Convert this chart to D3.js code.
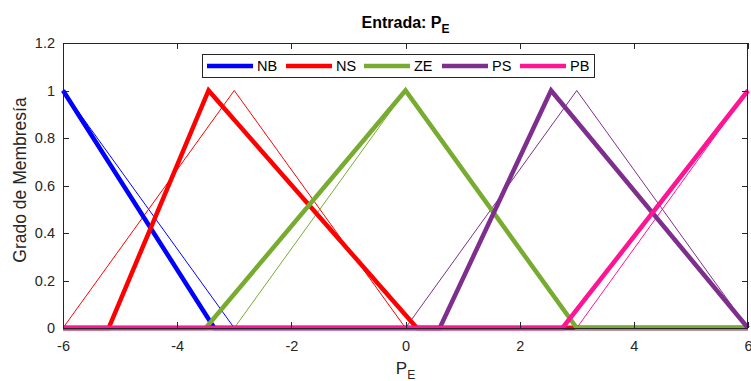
<!DOCTYPE html>
<html>
<head>
<meta charset="utf-8">
<script src="https://cdn.jsdelivr.net/npm/d3@7"></script>
<style>
  html, body { margin: 0; padding: 0; background: #fff; }
  svg { display: block; font-family: "Liberation Sans", Arial, Helvetica, sans-serif; }
</style>
</head>
<body>
<div id="chart"></div>
<script>
// Membership function labels and colours
const setNames  = ["NB", "NS", "ZE", "PS", "PB"];
const setColors = ["#0000ff", "#ff0000", "#77ac30", "#7e2f8e", "#ff1493"];

// Initial triangular membership functions [a, b, c]
const initialParams = [
  [-9, -6, -3],
  [-6, -3, 0],
  [-3, 0, 3],
  [0, 3, 6],
  [3, 6, 9]
];

// Tuned triangular membership functions [a, b, c]
const tunedParams = [
  [-9, -6, -3.35],
  [-5.2, -3.45, 0.2],
  [-3.5, 0, 3],
  [0.6, 2.55, 6],
  [2.75, 6, 9]
];

const xTicks = [-6, -4, -2, 0, 2, 4, 6];
const yTicks = [0, 0.2, 0.4, 0.6, 0.8, 1, 1.2];
const xDomain = [-6, 6];
const yDomain = [0, 1.2];

const W = 751, H = 381;
const margin = { left: 63, right: 3, top: 43, bottom: 53 };

const svg = d3.select("#chart").append("svg")
  .attr("width", W).attr("height", H);

const x = d3.scaleLinear().domain(xDomain).range([margin.left, W - margin.right]);
const y = d3.scaleLinear().domain(yDomain).range([H - margin.bottom, margin.top]);

// Triangle sampled at its breakpoints, clipped to the axis range
function trianglePoints(p) {
  const [a, b, c] = p;
  const mf = v => Math.max(0, Math.min((v - a) / (b - a), (c - v) / (c - b)));
  const xs = [xDomain[0], a, b, c, xDomain[1]]
    .filter(v => v >= xDomain[0] && v <= xDomain[1])
    .sort((m, n) => m - n);
  return Array.from(new Set(xs)).map(v => [v, mf(v)]);
}

const line = d3.line().x(d => x(d[0])).y(d => y(d[1]));

svg.append("clipPath").attr("id", "plotclip")
  .append("rect")
  .attr("x", margin.left - 3).attr("y", margin.top)
  .attr("width", W - margin.left - margin.right + 6)
  .attr("height", H - margin.top - margin.bottom + 3);

const plot = svg.append("g").attr("clip-path", "url(#plotclip)");

// thin initial curves first, then thick tuned ones
initialParams.forEach((p, i) => {
  plot.append("path")
    .attr("d", line(trianglePoints(p)))
    .attr("fill", "none")
    .attr("stroke", setColors[i])
    .attr("stroke-width", 1);
});
tunedParams.forEach((p, i) => {
  plot.append("path")
    .attr("d", line(trianglePoints(p)))
    .attr("fill", "none")
    .attr("stroke", setColors[i])
    .attr("stroke-width", 4.5)
    .attr("stroke-linejoin", "miter");
});

// Axes box and ticks
const axisColor = "#262626";
const x0 = x(xDomain[0]), x1 = x(xDomain[1]);
const y0 = y(yDomain[0]), y1 = y(yDomain[1]);
const tickLen = 6;

const axisG = svg.append("g");
axisG.append("rect")
  .attr("x", x0 + 0.5).attr("y", y1 + 0.5)
  .attr("width", x1 - x0 - 1).attr("height", y0 - y1)
  .attr("fill", "none").attr("stroke", axisColor).attr("stroke-width", 1);

const bottomAxis = d3.axisBottom(x).tickValues(xTicks).tickSize(0).tickPadding(13)
  .tickFormat(d => d < 0 ? "-" + Math.abs(d) : String(d));
const gx = svg.append("g").attr("transform", `translate(0,${y0})`).call(bottomAxis);
gx.select(".domain").remove();
gx.selectAll("text").attr("font-size", 14.5).attr("fill", axisColor)
  .attr("font-family", "'Liberation Sans', Arial, sans-serif");

const leftAxis = d3.axisLeft(y).tickValues(yTicks).tickSize(0).tickPadding(8)
  .tickFormat(d => String(+d.toFixed(1)));
const gy = svg.append("g").attr("transform", `translate(${x0},0)`).call(leftAxis);
gy.select(".domain").remove();
gy.selectAll("text").attr("font-size", 14.5).attr("fill", axisColor)
  .attr("font-family", "'Liberation Sans', Arial, sans-serif");

// inward tick marks on all four sides
xTicks.forEach(t => {
  const px = Math.round(x(t)) + 0.5;
  axisG.append("line").attr("x1", px).attr("x2", px).attr("y1", y0).attr("y2", y0 - tickLen)
    .attr("stroke", axisColor);
  axisG.append("line").attr("x1", px).attr("x2", px).attr("y1", y1).attr("y2", y1 + tickLen)
    .attr("stroke", axisColor);
});
yTicks.forEach(t => {
  const py = Math.round(y(t)) + 0.5;
  axisG.append("line").attr("x1", x0).attr("x2", x0 + tickLen).attr("y1", py).attr("y2", py)
    .attr("stroke", axisColor);
  axisG.append("line").attr("x1", x1).attr("x2", x1 - tickLen).attr("y1", py).attr("y2", py)
    .attr("stroke", axisColor);
});

// Title
const title = svg.append("text")
  .attr("x", (x0 + x1) / 2).attr("y", 28)
  .attr("text-anchor", "middle")
  .attr("font-size", 16).attr("font-weight", "bold").attr("fill", "#000");
title.append("tspan").text("Entrada: P");
title.append("tspan").attr("dy", 5).attr("font-size", 12).text("E");

// X label
const xl = svg.append("text")
  .attr("x", (x0 + x1) / 2).attr("y", 374)
  .attr("text-anchor", "middle")
  .attr("font-size", 17).attr("fill", axisColor);
xl.append("tspan").text("P");
xl.append("tspan").attr("dy", 5).attr("font-size", 12).text("E");

// Y label
svg.append("text")
  .attr("transform", `translate(26,180) rotate(-90)`)
  .attr("text-anchor", "middle")
  .attr("font-size", 17.5).attr("fill", axisColor)
  .text("Grado de Membresía");

// Legend
const legend = svg.append("g");
legend.append("rect")
  .attr("x", 202.5).attr("y", 54.5).attr("width", 392).attr("height", 23)
  .attr("fill", "#fff").attr("stroke", axisColor).attr("stroke-width", 1);
const legendX = [207, 286, 364, 442, 520];
setNames.forEach((name, i) => {
  legend.append("line")
    .attr("x1", legendX[i]).attr("x2", legendX[i] + 46)
    .attr("y1", 66).attr("y2", 66)
    .attr("stroke", setColors[i]).attr("stroke-width", 4.5);
  legend.append("text")
    .attr("x", legendX[i] + 50).attr("y", 71)
    .attr("font-size", 14.5).attr("fill", "#000")
    .text(name);
});
</script>
</body>
</html>
